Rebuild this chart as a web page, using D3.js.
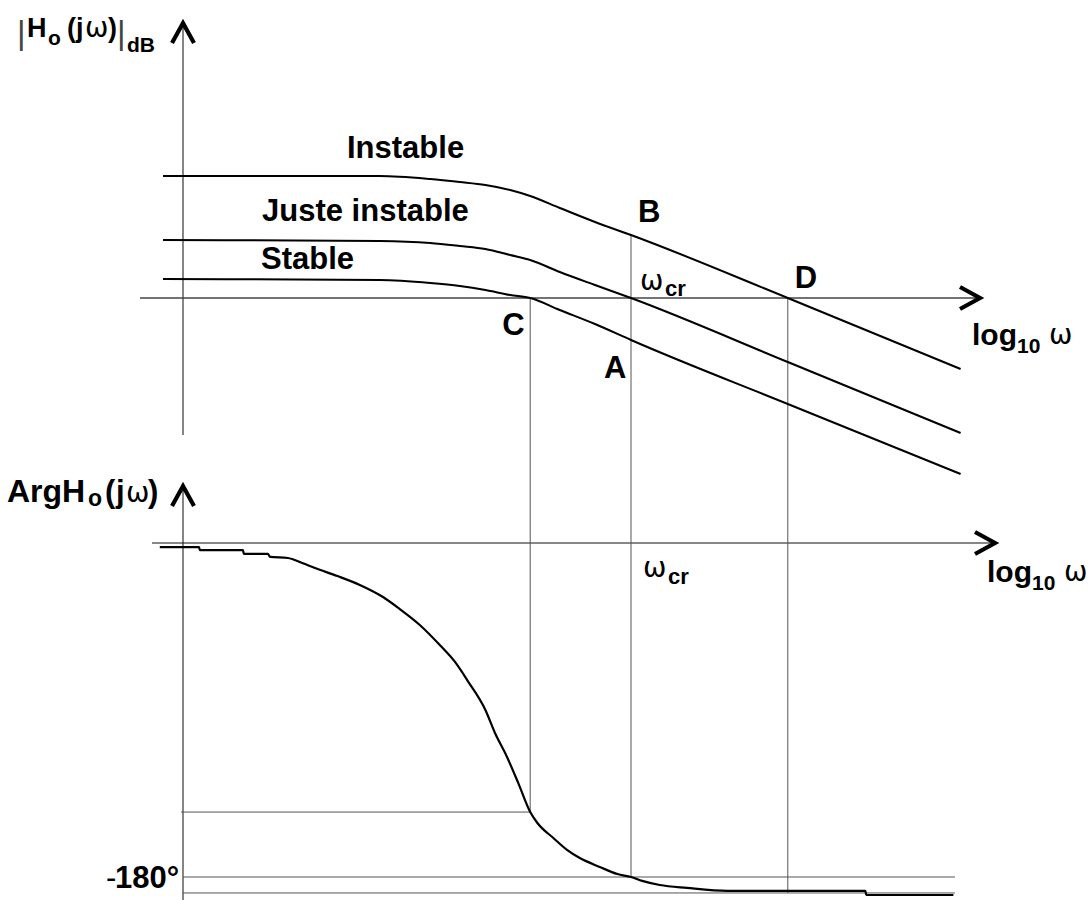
<!DOCTYPE html>
<html>
<head>
<meta charset="utf-8">
<script src="https://cdn.jsdelivr.net/npm/d3@7"></script>
<style>
  body { margin: 0; background: #fff; }
  text { font-family: "Liberation Sans", Arial, sans-serif; fill: #000; }
  .b { font-weight: bold; }
  .g { font-family: "DejaVu Sans", sans-serif; font-weight: normal; }
</style>
</head>
<body>
<div id="chart"></div>
<script>
// log10(w) positions shared by the three gain curves
var magW = [-0.25, 2.46, 3.09, 3.46, 3.78, 4.09, 4.34, 4.71, 5.15, 5.6, 7.56, 9.72];
// gain in dB
var gainInstable = [30.5, 30.5, 29.75, 29, 28.25, 27, 25.5, 22.5, 19, 15.75, 0, -17.75];
var gainJuste = [14.5, 14.25, 13.75, 13, 12.25, 10.75, 9.5, 6.5, 3.25, 0, -16, -33.75];
var gainStable = [4.75, 4.5, 3.75, 3, 2, 0.75, 0, -3, -6.5, -10.5, -26.5, -44];
var curveNames = ["Instable", "Juste instable", "Stable"];

// phase curve
var phaseW = [-0.29, 0.2, 0.21, 0.75, 0.76, 1.06, 1.09, 1.31, 1.49, 1.65, 1.93, 2.21, 2.5, 2.71,
  2.96, 3.21, 3.4, 3.56, 3.78, 3.9, 4.05, 4.19, 4.34, 4.43, 4.63, 4.8, 4.96, 5.21, 5.43, 5.6,
  5.74, 5.96, 6.3, 6.81, 8.53, 8.54, 9.63];
var phaseDeg = [-2.2, -2.2, -3.8, -3.8, -5.9, -5.9, -7.5, -8.1, -10.8, -13.5, -17.8, -22.6, -29.1, -35.6,
  -44.2, -55.0, -64.1, -74.4, -90.0, -102.4, -115.3, -129.3, -145.0, -150.9, -159.0, -165.4, -169.8, -174.6, -178.4, -180,
  -182.1, -184.3, -185.9, -187.5, -187.5, -189.7, -189.7];

// particular frequencies: C, A/B (w_cr), D
var wC = 4.34, wCr = 5.6, wD = 7.56;
var phaseC = -145, phaseLow = -188.6;

var svgWidth = 1091;
var svgHeight = 900;

var svg = d3.select("#chart")
  .append("svg")
  .attr("width", svgWidth)
  .attr("height", svgHeight);

var x = d3.scaleLinear().domain([0, 10]).range([183, 983]);
var yMag = d3.scaleLinear().domain([0, 30]).range([298, 178]);
var yPh = d3.scaleLinear().domain([0, -180]).range([543, 877]);

var grey = "#555";

function seg(x1, y1, x2, y2, col, w) {
  svg.append("line")
    .attr("x1", x1).attr("y1", y1).attr("x2", x2).attr("y2", y2)
    .attr("stroke", col).attr("stroke-width", w);
}

// axes
var ax = x(0);
seg(ax, 26, ax, 435, "#444", 1.3);
seg(140, yMag(0), 978, yMag(0), "#444", 1.3);
seg(ax, 490, ax, 900, "#444", 1.3);
seg(152, yPh(0), 993, yPh(0), "#111", 1.2);

// chevron arrow heads
function arrowUp(cx, cy) {
  svg.append("path")
    .attr("d", `M${cx - 11},${cy + 23} L${cx},${cy + 3} L${cx + 11},${cy + 23}`)
    .attr("fill", "none")
    .attr("stroke", "#000")
    .attr("stroke-width", 4.2);
}
function arrowRight(cx, cy) {
  svg.append("path")
    .attr("d", `M${cx - 23},${cy - 11} L${cx - 3},${cy} L${cx - 23},${cy + 11}`)
    .attr("fill", "none")
    .attr("stroke", "#000")
    .attr("stroke-width", 4.2);
}
arrowUp(ax, 20);
arrowUp(ax, 483);
arrowRight(983, yMag(0));
arrowRight(998, yPh(0));

// construction lines
seg(x(wC), yMag(0), x(wC), yPh(phaseC), grey, 1);
seg(x(wCr), yMag(gainInstable[9]), x(wCr), yPh(-180), grey, 1);
seg(x(wD), yMag(0), x(wD), yPh(phaseLow), grey, 1);
seg(ax - 2, yPh(phaseC), x(wC), yPh(phaseC), grey, 1);
seg(ax, yPh(-180), 955, yPh(-180), grey, 1);
seg(ax, yPh(phaseLow), 955, yPh(phaseLow), grey, 1);

// gain curves
var magLine = d3.line()
  .x((d, i) => x(magW[i]))
  .y(d => yMag(d))
  .curve(d3.curveMonotoneX);

[gainInstable, gainJuste, gainStable].forEach(function(s) {
  svg.append("path")
    .attr("d", magLine(s))
    .attr("fill", "none")
    .attr("stroke", "#000")
    .attr("stroke-width", 2);
});

// phase curve
var phLine = d3.line()
  .x((d, i) => x(phaseW[i]))
  .y(d => yPh(d))
  .curve(d3.curveMonotoneX);

svg.append("path")
  .attr("d", phLine(phaseDeg))
  .attr("fill", "none")
  .attr("stroke", "#000")
  .attr("stroke-width", 2.2);

// text helper
function txt(s, px, py, size, cls, col) {
  var t = svg.append("text")
    .attr("x", px).attr("y", py)
    .attr("font-size", size)
    .text(s);
  if (cls) t.attr("class", cls);
  if (col) t.style("fill", col);
  return t;
}

// |Ho(jw)|dB
txt("|", 17, 44, 33, null, "#444");
txt("H", 27, 37, 27, "b");
txt("o", 48, 45, 21, "b");
txt("(", 67, 37, 27, "b");
txt("j", 76, 37, 27, "b");
txt("ω", 85, 37, 28, "g");
txt(")", 108, 37, 27, "b");
txt("|", 117, 44, 33, null, "#444");
txt("dB", 127, 52, 21, "b");

// ArgHo(jw)
txt("ArgH", 7, 502, 32, "b");
txt("o", 88, 506, 23, "b");
txt("(", 105, 502, 31, "b");
txt("j", 116, 502, 31, "b");
txt("ω", 126, 502, 28, "g");
txt(")", 148, 502, 31, "b");

// curve names
txt(curveNames[0], 347, 158, 31, "b");
txt(curveNames[1], 262, 221, 31, "b");
txt(curveNames[2], 261, 269, 31, "b");

// points
txt("B", x(wCr) + 7, 222, 31, "b");
txt("D", x(wD) + 7, 288, 31, "b");
txt("C", x(wC) - 28, 335, 31, "b");
txt("A", x(wCr) - 27, 378, 31, "b");

// w_cr
txt("ω", x(wCr) + 9, 290, 28, "g");
txt("cr", x(wCr) + 34, 296, 22, "b");
txt("ω", x(wCr) + 12, 577, 28, "g");
txt("cr", x(wCr) + 37, 584, 22, "b");

// log10 w
function logLabel(px, py) {
  txt("log", px, py, 30, "b");
  txt("10", px + 45, py + 8, 21, "b");
  txt("ω", px + 77, py - 1, 28, "g");
}
logLabel(972, 345);
logLabel(987, 582);

// -180
txt("-", 106, 888, 31);
txt("180°", 115, 888, 31, "b");
</script>
</body>
</html>
